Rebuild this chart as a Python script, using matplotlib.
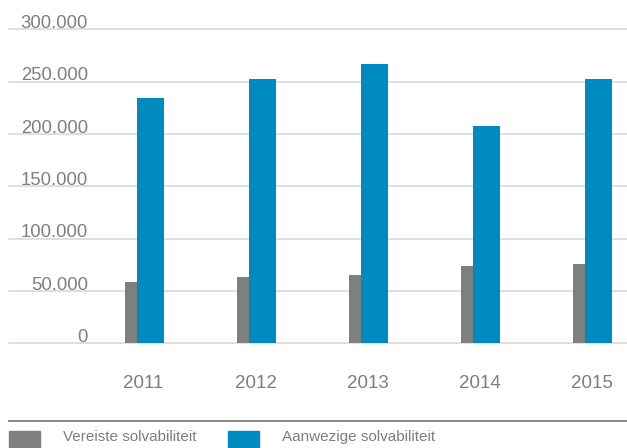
import numpy as np
import matplotlib
matplotlib.use("Agg")
import matplotlib.pyplot as plt
from matplotlib.patches import Rectangle

# data
years = ['2011', '2012', '2013', '2014', '2015']
vereiste = [58600, 63400, 65300, 73900, 75800]
aanwezig = [234200, 252700, 267000, 207700, 252700]
series_names = ['Vereiste solvabiliteit', 'Aanwezige solvabiliteit']
y_ticks = [0, 50000, 100000, 150000, 200000, 250000, 300000]

grey = '#7f7f80'
blue = '#008bc0'
txt = '#7f7f7f'

W, H = 627, 448
fig = plt.figure(figsize=(W / 100, H / 100), dpi=100)
plt.rcParams['font.family'] = ['Liberation Sans', 'DejaVu Sans']

# axes placed in pixel units: x from 9 to 627, y zero at 343, 300k at 29.3
ax_left, ax_right = 9, 627
y0, y300 = 343.3, 29.3
ax = fig.add_axes([ax_left / W, (H - y0) / H, (ax_right - ax_left) / W, (y0 - y300) / H])

x = np.arange(len(years))
step = 112.0
ax.set_xlim((ax_left - 144.5) / step, (ax_right - 144.5) / step)
ax.set_ylim(0, 300000)

for t in y_ticks:
    ax.axhline(t, color='#d9d9d9', lw=1.2, zorder=0, clip_on=False)

w_grey = 12 / step
w_blue = 27 / step
ax.bar(x - 7.5 / step - w_grey / 2, vereiste, width=w_grey, color=grey, zorder=2)
ax.bar(x - 7.5 / step + w_blue / 2, aanwezig, width=w_blue, color=blue, zorder=2)

for s in ax.spines.values():
    s.set_visible(False)
ax.set_xticks([])
ax.set_yticks([])

# y labels sit on top of their gridline, right aligned
lab_x = (88 - 144.5) / step
for t in y_ticks:
    lab = '0' if t == 0 else f'{t // 1000}.000'
    ax.text(lab_x, t + 1200, lab, ha='right', va='baseline', fontsize=13.3, color=txt)

# year labels
for xi, yr in zip(x, years):
    ax.text(xi - 1 / step, -38000, yr, ha='center', va='center', fontsize=13.5, color=txt)

# separator line above legend
fig.add_artist(plt.Line2D([9 / W, 1], [(H - 421) / H] * 2, color='#808080', lw=1.3))

# legend
leg_y = (H - 448) / H
leg_h = 17 / H
for name, col, px, tx in [(series_names[0], grey, 9, 63), (series_names[1], blue, 228, 282)]:
    fig.add_artist(Rectangle((px / W, leg_y), 31 / W, leg_h, color=col, transform=fig.transFigure))
    fig.text(tx / W, (H - 437) / H, name, ha='left', va='center', fontsize=11, color=txt)

fig.savefig('out.png', dpi=100)
